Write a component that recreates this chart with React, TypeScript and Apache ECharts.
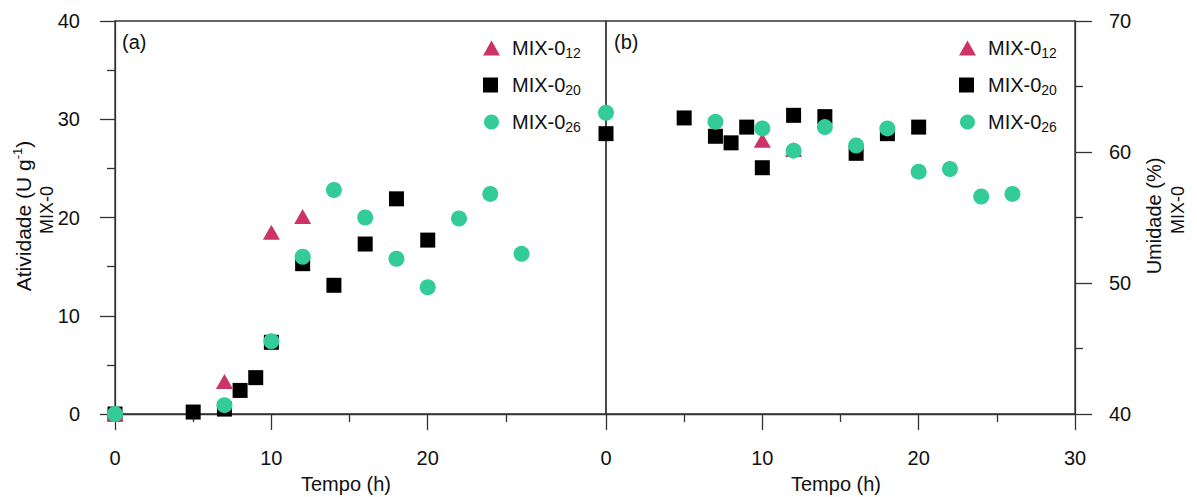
import React, { useEffect, useRef } from "react";
import * as echarts from "echarts";

// ---- data ----
// Panel (a): Atividade (U g-1) vs Tempo (h)
const timeA12 = [0, 7, 10, 12];
const actA12 = [0, 3.3, 18.5, 20.1];
const timeA20 = [0, 5, 7, 8, 9, 10, 12, 14, 16, 18, 20];
const actA20 = [0, 0.2, 0.5, 2.4, 3.7, 7.3, 15.3, 13.1, 17.3, 21.9, 17.7];
const timeA26 = [0, 7, 10, 12, 14, 16, 18, 20, 22, 24, 26];
const actA26 = [0, 0.9, 7.4, 16.0, 22.8, 20.0, 15.8, 12.9, 19.9, 22.4, 16.3];

// Panel (b): Umidade (%) vs Tempo (h)
const timeB12 = [10, 12];
const humB12 = [60.9, 60.2];
const timeB20 = [0, 5, 7, 8, 9, 10, 12, 14, 16, 18, 20];
const humB20 = [61.4, 62.6, 61.2, 60.7, 61.9, 58.8, 62.8, 62.7, 59.9, 61.4, 61.9];
const timeB26 = [0, 7, 10, 12, 14, 16, 18, 20, 22, 24, 26];
const humB26 = [63.0, 62.3, 61.8, 60.1, 61.9, 60.5, 61.8, 58.5, 58.7, 56.6, 56.8];

const seriesNames = ["MIX-0_12", "MIX-0_20", "MIX-0_26"];
const xTicksA = [0, 10, 20];
const xMinorA = [5, 15, 25];

const FONT = "Liberation Sans, Arial, Helvetica, sans-serif";
const AXIS_COLOR = "#333";
const TEXT_COLOR = "#111";
const PINK = "#CC3366";
const GREEN = "#33CC99";
const BLACK = "#000000";

const pairs = (xs: number[], ys: number[]) => xs.map((x, i) => [x, ys[i]]);

export default function App() {
  const ref = useRef<HTMLDivElement>(null);

  useEffect(() => {
    if (!ref.current) return;
    const chart = echarts.init(ref.current, null, { renderer: "svg" });

    const axisLine = { show: true, onZero: false, lineStyle: { color: AXIS_COLOR, width: 1.3 } };
    const tickLine = { color: AXIS_COLOR, width: 1.3 };
    const labelStyle = { fontSize: 20, fontFamily: FONT, color: TEXT_COLOR };

    const legendCommon = {
      orient: "vertical" as const,
      top: 33,
      itemWidth: 17,
      itemHeight: 15,
      itemGap: 15,
      data: [
        { name: seriesNames[0], icon: "triangle" },
        { name: seriesNames[1], icon: "square" },
        { name: seriesNames[2], icon: "circle" },
      ],
      formatter: (name: string) => `{m|MIX-0}{s|${name.split("_")[1]}}`,
      textStyle: {
        color: TEXT_COLOR,
        fontSize: 20,
        fontFamily: FONT,
        rich: {
          m: { fontSize: 20, fontFamily: FONT, color: TEXT_COLOR, lineHeight: 24, padding: [0, 0, 0, 7] },
          s: { fontSize: 14, fontFamily: FONT, color: TEXT_COLOR, lineHeight: 10, verticalAlign: "bottom" },
        },
      },
    };

    const scatter = (name: string, xi: number, yi: number, data: number[][], symbol: string, size: any, color: string, z: number) => ({
      type: "scatter",
      name,
      xAxisIndex: xi,
      yAxisIndex: yi,
      data,
      symbol,
      symbolSize: size,
      itemStyle: { color, opacity: 1 },
      z,
      emphasis: { disabled: true },
    });

    const option: any = {
      animation: false,
      textStyle: { fontFamily: FONT },
      grid: [
        { left: 115, top: 21, width: 491, height: 393, show: true, borderColor: AXIS_COLOR, borderWidth: 1.3 },
        { left: 606, top: 21, width: 469, height: 393, show: true, borderColor: AXIS_COLOR, borderWidth: 1.3 },
      ],
      xAxis: [
        {
          gridIndex: 0, type: "value", min: 0, max: 31.4, position: "bottom",
          axisLine,
          axisTick: { show: true, inside: false, length: 16, customValues: xTicksA, lineStyle: tickLine },
          axisLabel: { ...labelStyle, margin: 34, customValues: xTicksA },
          splitLine: { show: false },
        },
        {
          gridIndex: 0, type: "value", min: 0, max: 31.4, position: "bottom",
          axisLine: { show: false, onZero: false },
          axisTick: { show: true, inside: false, length: 8, customValues: xMinorA, lineStyle: tickLine },
          axisLabel: { show: false },
          splitLine: { show: false },
        },
        {
          gridIndex: 1, type: "value", min: 0, max: 30, interval: 10, position: "bottom",
          axisLine,
          axisTick: { show: true, inside: false, length: 16, lineStyle: tickLine },
          minorTick: { show: true, splitNumber: 2, length: 8, lineStyle: tickLine },
          axisLabel: { ...labelStyle, margin: 34 },
          splitLine: { show: false },
          minorSplitLine: { show: false },
        },
      ],
      yAxis: [
        {
          gridIndex: 0, type: "value", min: 0, max: 40, interval: 10, position: "left",
          axisLine,
          axisTick: { show: true, inside: false, length: 15, lineStyle: tickLine },
          minorTick: { show: true, splitNumber: 2, length: 8, lineStyle: tickLine },
          axisLabel: { ...labelStyle, margin: 35 },
          splitLine: { show: false },
          minorSplitLine: { show: false },
        },
        {
          gridIndex: 1, type: "value", min: 40, max: 70, interval: 10, position: "right",
          axisLine,
          axisTick: { show: true, inside: false, length: 17, lineStyle: tickLine },
          minorTick: { show: true, splitNumber: 2, length: 8, lineStyle: tickLine },
          axisLabel: { ...labelStyle, margin: 34 },
          splitLine: { show: false },
          minorSplitLine: { show: false },
        },
      ],
      legend: [
        { ...legendCommon, left: 478 },
        { ...legendCommon, left: 954 },
      ],
      series: [
        scatter(seriesNames[1], 0, 0, pairs(timeA20, actA20), "rect", 15, BLACK, 2),
        scatter(seriesNames[0], 0, 0, pairs(timeA12, actA12), "triangle", [17, 15], PINK, 3),
        scatter(seriesNames[2], 0, 0, pairs(timeA26, actA26), "circle", 16, GREEN, 4),
        scatter(seriesNames[1], 2, 1, pairs(timeB20, humB20), "rect", 15, BLACK, 2),
        scatter(seriesNames[0], 2, 1, pairs(timeB12, humB12), "triangle", [17, 15], PINK, 3),
        scatter(seriesNames[2], 2, 1, pairs(timeB26, humB26), "circle", 16, GREEN, 4),
      ],
      graphic: [
        {
          type: "text", x: 122, y: 42,
          style: { text: "(a)", fontSize: 20, fontFamily: FONT, fill: TEXT_COLOR, align: "left", verticalAlign: "middle", textAlign: "left", textVerticalAlign: "middle" },
        },
        {
          type: "text", x: 614, y: 42,
          style: { text: "(b)", fontSize: 20, fontFamily: FONT, fill: TEXT_COLOR, align: "left", verticalAlign: "middle", textAlign: "left", textVerticalAlign: "middle" },
        },
        {
          type: "text", x: 346, y: 484,
          style: { text: "Tempo (h)", fontSize: 20, fontFamily: FONT, fill: TEXT_COLOR, align: "center", verticalAlign: "middle", textAlign: "center", textVerticalAlign: "middle" },
        },
        {
          type: "text", x: 836, y: 484,
          style: { text: "Tempo (h)", fontSize: 20, fontFamily: FONT, fill: TEXT_COLOR, align: "center", verticalAlign: "middle", textAlign: "center", textVerticalAlign: "middle" },
        },
        {
          type: "text", x: 23, y: 216, rotation: Math.PI / 2,
          style: {
            text: "{t|Atividade (U g}{p|-1}{t|)}",
            align: "center", verticalAlign: "middle", textAlign: "center", textVerticalAlign: "middle",
            fill: TEXT_COLOR,
            rich: {
              t: { fontSize: 21, fontFamily: FONT, fill: TEXT_COLOR, color: TEXT_COLOR, lineHeight: 24 },
              p: { fontSize: 13, fontFamily: FONT, fill: TEXT_COLOR, color: TEXT_COLOR, lineHeight: 14, verticalAlign: "top" },
            },
          },
        },
        {
          type: "text", x: 47, y: 210, rotation: Math.PI / 2,
          style: { text: "MIX-0", fontSize: 18, fontFamily: FONT, fill: TEXT_COLOR, align: "center", verticalAlign: "middle", textAlign: "center", textVerticalAlign: "middle" },
        },
        {
          type: "text", x: 1154, y: 216, rotation: Math.PI / 2,
          style: { text: "Umidade (%)", fontSize: 20, fontFamily: FONT, fill: TEXT_COLOR, align: "center", verticalAlign: "middle", textAlign: "center", textVerticalAlign: "middle" },
        },
        {
          type: "text", x: 1178, y: 210, rotation: Math.PI / 2,
          style: { text: "MIX-0", fontSize: 18, fontFamily: FONT, fill: TEXT_COLOR, align: "center", verticalAlign: "middle", textAlign: "center", textVerticalAlign: "middle" },
        },
      ],
    };

    chart.setOption(option);
    return () => chart.dispose();
  }, []);

  return (
    <div
      ref={ref}
      style={{ position: "absolute", left: 0, top: 0, width: 1197, height: 497, background: "#fff" }}
    />
  );
}
